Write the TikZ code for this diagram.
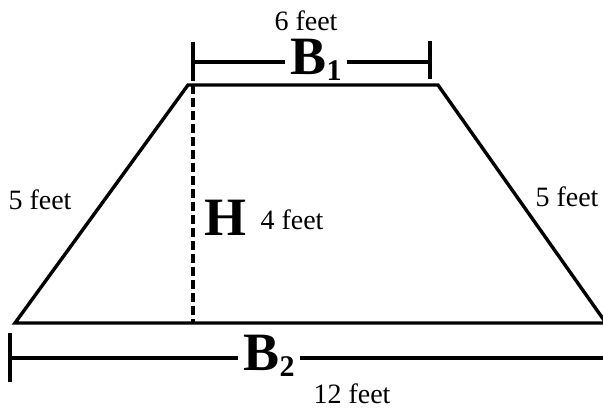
\documentclass[tikz,border=0pt]{standalone}
\usepackage{fontspec}
\setmainfont{Liberation Serif}
\usetikzlibrary{positioning}

\begin{document}
\begin{tikzpicture}[
      x=1pt, y=-1pt,
      every node/.style={font=\fontsize{28}{28}\selectfont, inner sep=0pt},
      big/.style={font=\fontsize{54}{54}\selectfont\bfseries, inner xsep=5pt},
      edge/.style={line width=3.4pt, line join=miter},
      dim/.style={line width=3.4pt},
      height/.style={line width=3.4pt, dash pattern=on 9pt off 4pt}
    ]
      \useasboundingbox (0,0) rectangle (603,409);
      % trapezoid corners
      \coordinate (BL) at (15,323);
      \coordinate (BR) at (606,323);
      \coordinate (TL) at (188,85);
      \coordinate (TR) at (438,85);
      \coordinate (HT) at (193,85);
      \coordinate (HB) at (193,323);

      \draw[edge] (BL) -- (TL) -- (TR) -- (BR) -- cycle;
      \draw[height] (HT) -- (HB);

      % top base
      \node[big] (B1) at (316,60) {B\raisebox{-6pt}{\fontsize{30}{30}\selectfont 1}};
      \node (top) at (306,21) {6 feet};
      \coordinate (B1L) at (193,62);
      \coordinate (B1R) at (430,62);
      \draw[dim] (193,42) -- (193,81);
      \draw[dim] (430,41) -- (430,79);
      \draw[dim] (B1L) -- (B1.west |- B1L);
      \draw[dim] (B1.east |- B1R) -- (B1R);

      % bottom base
      \node[big] (B2) at (269,356) {B\raisebox{-6pt}{\fontsize{30}{30}\selectfont 2}};
      \node (bot) at (352,394) {12 feet};
      \coordinate (B2L) at (10,358);
      \coordinate (B2R) at (606,358);
      \draw[dim] (10,333) -- (10,382);
      \draw[dim] (B2L) -- (B2.west |- B2L);
      \draw[dim] (B2.east |- B2R) -- (B2R);

      % sides and height
      \node (left) at (40,200) {5 feet};
      \node (right) at (567,197) {5 feet};
      \node[big, inner xsep=0pt] (H) at (225,218) {H};
      \node (hgt) at (292,220) {4 feet};
    \end{tikzpicture}
\end{document}
